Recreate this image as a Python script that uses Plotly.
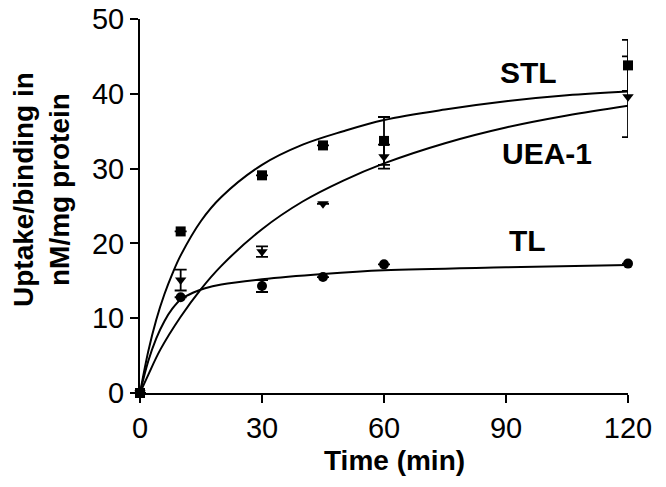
import plotly.graph_objects as go

# Measured data points (time in min)
time_pts = [0, 10, 30, 45, 60, 120]
stl_vals = [0, 21.6, 29.1, 33.1, 33.7, 43.8]
stl_err = [0, 0, 0, 0, 3.2, 3.4]
uea_vals = [0, 15.1, 18.9, 25.3, 31.6, 39.6]
uea_err = [0, 1.4, 0.7, 0, 1.6, 5.4]
tl_vals = [0, 12.8, 14.3, 15.5, 17.2, 17.3]
tl_err = [0, 0, 0.8, 0, 0, 0]

# Fitted curves
stl_curve_x = [0, 2, 4, 6, 8, 10, 15, 20, 30, 40, 50, 60, 75, 90, 105, 120]
stl_curve_y = [0, 5.5, 9.8, 13.2, 16.0, 18.4, 23.0, 26.2, 30.5, 33.2, 35.0, 36.5, 37.9, 39.0, 39.8, 40.3]
uea_curve_x = [0, 2, 5, 10, 15, 20, 30, 40, 50, 60, 75, 90, 105, 120]
uea_curve_y = [0, 2.4, 5.8, 10.2, 13.9, 17.0, 21.9, 25.6, 28.4, 30.7, 33.4, 35.5, 37.1, 38.4]
tl_curve_x = [0, 2, 4, 6, 8, 10, 13, 16, 20, 30, 45, 60, 90, 120]
tl_curve_y = [0, 4.2, 7.3, 9.6, 11.3, 12.5, 13.4, 14.0, 14.5, 15.2, 15.9, 16.4, 16.8, 17.1]

x_ticks = [0, 30, 60, 90, 120]
y_ticks = [0, 10, 20, 30, 40, 50]

series_labels = ["STL", "UEA-1", "TL"]
label_x = [95.5, 100.1, 95.2]
label_y = [42.9, 32.0, 20.4]

FONT = "Arial, Liberation Sans, sans-serif"

L, T = 139.5, 19
PW, PH = 488.2, 373.7

fig = go.Figure()

for cx, cy in [(stl_curve_x, stl_curve_y), (uea_curve_x, uea_curve_y), (tl_curve_x, tl_curve_y)]:
    fig.add_trace(go.Scatter(x=cx, y=cy, mode="lines", line=dict(color="black", width=2, shape="spline"),
                             showlegend=False, hoverinfo="skip", cliponaxis=False))

for vals, errs, sym in [(stl_vals, stl_err, "square"), (uea_vals, uea_err, "triangle-down"), (tl_vals, tl_err, "circle")]:
    fig.add_trace(go.Scatter(
        x=time_pts, y=vals, mode="markers",
        marker=dict(symbol=sym, size=10, color="black"),
        error_y=dict(type="data", array=errs, color="black", thickness=1.8, width=6, visible=True),
        showlegend=False, cliponaxis=False))

for t, lx, ly in zip(series_labels, label_x, label_y):
    fig.add_annotation(x=lx, y=ly, text="<b>%s</b>" % t, showarrow=False,
                       font=dict(family=FONT, size=30, color="black"))

fig.add_annotation(xref="paper", yref="paper", x=0.5, y=0, xshift=10, yshift=-67,
                   text="<b>Time (min)</b>", showarrow=False,
                   font=dict(family=FONT, size=28, color="black"), yanchor="middle")
fig.add_annotation(xref="paper", yref="paper", x=0, y=0.5, xshift=-99, yshift=16,
                   text="<b>Uptake/binding in<br>nM/mg protein</b>", showarrow=False, textangle=-90,
                   font=dict(family=FONT, size=28, color="black"), xanchor="center", yanchor="middle")

axis_common = dict(showline=True, linecolor="black", linewidth=2, ticks="outside", ticklen=8,
                   tickwidth=2, tickcolor="black", showgrid=False, zeroline=False, automargin=False,
                   ticklabeloverflow="allow",
                   tickfont=dict(family=FONT, size=29, color="black"))

fig.update_xaxes(range=[0, 120], tickvals=x_ticks, **axis_common)
fig.update_yaxes(range=[0, 50], tickvals=y_ticks, **axis_common)

fig.update_layout(width=666, height=487, plot_bgcolor="white", paper_bgcolor="white",
                  margin=dict(l=L, r=666 - L - PW, t=T, b=487 - T - PH, autoexpand=False),
                  showlegend=False)

fig.write_html("out.html", config={"displayModeBar": False},
               post_script="document.body.style.margin='0';")
